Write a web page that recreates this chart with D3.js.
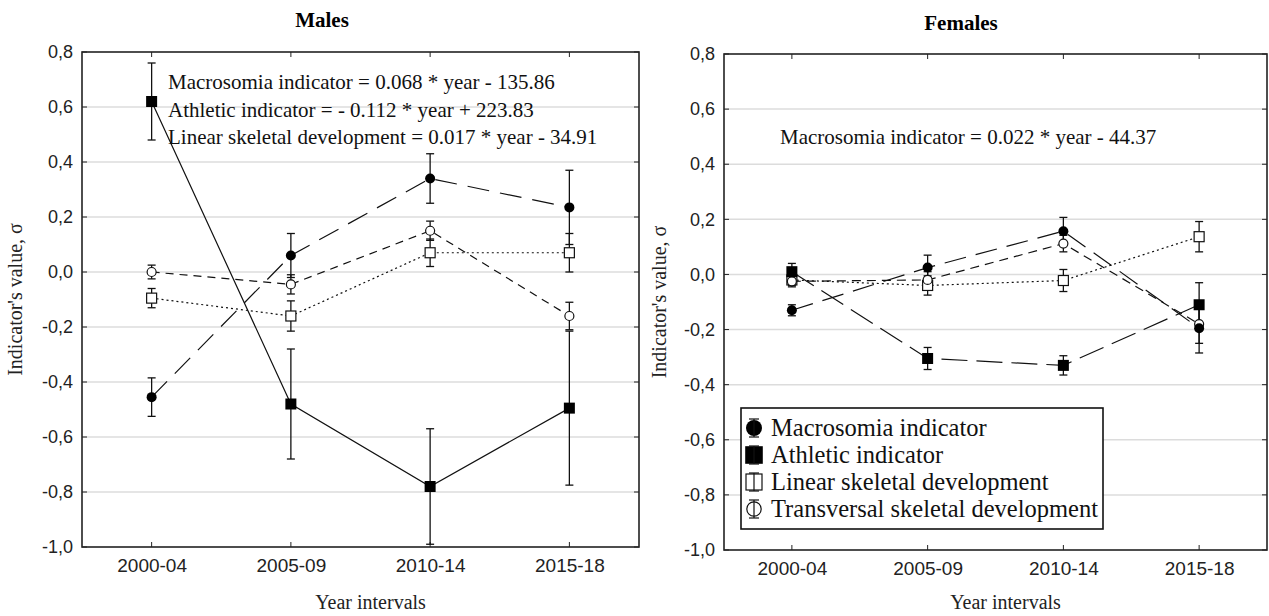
<!DOCTYPE html>
<html>
<head>
<meta charset="utf-8">
<script src="https://cdn.jsdelivr.net/npm/d3@7"></script>
<style>
  body { margin: 0; background: #fff; }
  svg { display: block; }
</style>
</head>
<body>
<div id="vis-container"></div>
<script>
(() => {

    ////////////////////////////////////
    ////////////// Data ////////////////
    ////////////////////////////////////

    const periods = ["2000-04", "2005-09", "2010-14", "2015-18"]
    const yTicks = [0.8, 0.6, 0.4, 0.2, 0.0, -0.2, -0.4, -0.6, -0.8, -1.0]
    const seriesNames = ["Macrosomia indicator", "Athletic indicator",
        "Linear skeletal development", "Transversal skeletal development"]

    // males: mean and half-width of error bar
    const maleMacro = [-0.455, 0.06, 0.34, 0.235]
    const maleMacroErr = [0.07, 0.08, 0.09, 0.135]
    const maleAthletic = [0.62, -0.48, -0.78, -0.495]
    const maleAthleticErr = [0.14, 0.20, 0.21, 0.28]
    const maleLinear = [-0.095, -0.16, 0.07, 0.07]
    const maleLinearErr = [0.035, 0.055, 0.05, 0.07]
    const maleTransv = [0.0, -0.045, 0.15, -0.16]
    const maleTransvErr = [0.025, 0.035, 0.035, 0.05]

    // females
    const femMacro = [-0.13, 0.025, 0.157, -0.195]
    const femMacroErr = [0.02, 0.045, 0.05, 0.09]
    const femAthletic = [0.01, -0.305, -0.33, -0.11]
    const femAthleticErr = [0.03, 0.04, 0.035, 0.08]
    const femLinear = [-0.02, -0.04, -0.022, 0.137]
    const femLinearErr = [0.02, 0.035, 0.04, 0.055]
    const femTransv = [-0.025, -0.02, 0.112, -0.18]
    const femTransvErr = [0.02, 0.03, 0.03, 0.07]

    const maleEquations = [
        "Macrosomia indicator = 0.068 * year - 135.86",
        "Athletic indicator = - 0.112 * year + 223.83",
        "Linear skeletal development = 0.017 * year - 34.91"
    ]
    const femaleEquations = ["Macrosomia indicator = 0.022 * year - 44.37"]

    ////////////////////////////////////
    ///////////// SVG Setup ////////////
    ////////////////////////////////////

    const svgWidth = 1269
    const svgHeight = 616

    const svg = d3.select('#vis-container')
        .append('svg')
        .attr("width", svgWidth)
        .attr("height", svgHeight)

    svg.append("rect").attr("width", svgWidth).attr("height", svgHeight).attr("fill", "#fff")

    const serif = "'Liberation Serif', 'Times New Roman', serif"
    const sans = "'Liberation Sans', Arial, sans-serif"

    const fmt = d3.formatLocale({ decimal: ",", thousands: " ", grouping: [3], currency: ["", ""], minus: "-" }).format(".1f")

    const makeSeries = (vals, errs) => vals.map((v, i) => ({ period: periods[i], v: v, e: errs[i] }))

    ////////////////////////////////////
    /////////// Panel drawing //////////
    ////////////////////////////////////

    function drawPanel(cfg) {
        const g = svg.append("g")

        const xScale = d3.scalePoint()
            .domain(periods)
            .range([cfg.left, cfg.right])
            .padding(0.5)

        const yScale = d3.scaleLinear()
            .domain([-1, 0.8])
            .range([cfg.bottom, cfg.top])

        // grid
        g.selectAll(".grid")
            .data(yTicks.slice(1, -1))
            .join("line")
            .attr("x1", cfg.left).attr("x2", cfg.right)
            .attr("y1", d => yScale(d)).attr("y2", d => yScale(d))
            .attr("stroke", "#dcdcdc").attr("stroke-width", 1.5)

        // y tick labels
        const yAxis = d3.axisLeft(yScale).tickValues(yTicks).tickSize(0).tickPadding(9).tickFormat(fmt)
        const ya = g.append("g").attr("transform", `translate(${cfg.left},0)`).call(yAxis)
        ya.select(".domain").remove()
        ya.selectAll("text").attr("font-family", sans).attr("font-size", 18).attr("fill", "#222")

        // x tick labels
        const xAxis = d3.axisBottom(xScale).tickSize(0).tickPadding(12)
        const xa = g.append("g").attr("transform", `translate(0,${cfg.bottom})`).call(xAxis)
        xa.select(".domain").remove()
        xa.selectAll("text").attr("font-family", sans).attr("font-size", 19).attr("fill", "#222")

        // inward ticks on all sides
        const tk = 5
        yTicks.forEach(t => {
            g.append("line").attr("x1", cfg.left).attr("x2", cfg.left + tk)
                .attr("y1", yScale(t)).attr("y2", yScale(t)).attr("stroke", "#222")
            g.append("line").attr("x1", cfg.right).attr("x2", cfg.right - tk)
                .attr("y1", yScale(t)).attr("y2", yScale(t)).attr("stroke", "#222")
        })
        periods.forEach(p => {
            g.append("line").attr("x1", xScale(p)).attr("x2", xScale(p))
                .attr("y1", cfg.top).attr("y2", cfg.top + tk).attr("stroke", "#222")
            g.append("line").attr("x1", xScale(p)).attr("x2", xScale(p))
                .attr("y1", cfg.bottom).attr("y2", cfg.bottom - tk).attr("stroke", "#222")
        })

        // frame
        g.append("rect")
            .attr("x", cfg.left).attr("y", cfg.top)
            .attr("width", cfg.right - cfg.left).attr("height", cfg.bottom - cfg.top)
            .attr("fill", "none").attr("stroke", "#222").attr("stroke-width", 1.6)

        // titles
        g.append("text")
            .attr("x", cfg.titleX).attr("y", cfg.titleY)
            .attr("text-anchor", "middle")
            .attr("font-family", serif).attr("font-weight", "bold").attr("font-size", 21)
            .text(cfg.title)

        g.append("text")
            .attr("x", (cfg.left + cfg.right) / 2 + 10).attr("y", 609)
            .attr("text-anchor", "middle")
            .attr("font-family", serif).attr("font-size", 20).attr("fill", "#222")
            .text("Year intervals")

        g.append("text")
            .attr("transform", `translate(${cfg.ylabX},${(cfg.top + cfg.bottom) / 2}) rotate(-90)`)
            .attr("text-anchor", "middle")
            .attr("font-family", serif).attr("font-size", 20).attr("fill", "#222")
            .text("Indicator's value,  σ")

        // lines
        const line = d3.line().x(d => xScale(d.period)).y(d => yScale(d.v))

        cfg.series.forEach(s => {
            g.append("path")
                .datum(s.data)
                .attr("d", line)
                .attr("fill", "none")
                .attr("stroke", "#111")
                .attr("stroke-width", 1.2)
                .attr("stroke-dasharray", s.dash)
        })

        // error bars
        cfg.series.forEach(s => {
            const eb = g.append("g")
            s.data.forEach(d => {
                const x = xScale(d.period)
                const y1 = yScale(d.v + d.e), y2 = yScale(d.v - d.e)
                eb.append("line").attr("x1", x).attr("x2", x).attr("y1", y1).attr("y2", y2)
                    .attr("stroke", "#111").attr("stroke-width", 1.3)
                eb.append("line").attr("x1", x - 4).attr("x2", x + 4).attr("y1", y1).attr("y2", y1)
                    .attr("stroke", "#111").attr("stroke-width", 1.3)
                eb.append("line").attr("x1", x - 4).attr("x2", x + 4).attr("y1", y2).attr("y2", y2)
                    .attr("stroke", "#111").attr("stroke-width", 1.3)
            })
        })

        // markers (open ones first, filled on top)
        const order = [2, 3, 0, 1]
        order.forEach(k => {
            const s = cfg.series[k]
            s.data.forEach(d => drawMarker(g, s.marker, xScale(d.period), yScale(d.v), 1))
        })

        // equations
        cfg.equations.forEach((t, i) => {
            g.append("text")
                .attr("x", cfg.eqX).attr("y", cfg.eqY + i * 27.5)
                .attr("font-family", serif).attr("font-size", 21).attr("fill", "#111")
                .text(t)
        })

        return { xScale, yScale }
    }

    function drawMarker(g, type, x, y, k) {
        if (type === "fcircle") {
            g.append("circle").attr("cx", x).attr("cy", y).attr("r", 5 * k).attr("fill", "#000")
        } else if (type === "fsquare") {
            g.append("rect").attr("x", x - 5.5 * k).attr("y", y - 5.5 * k)
                .attr("width", 11 * k).attr("height", 11 * k).attr("fill", "#000")
        } else if (type === "osquare") {
            g.append("rect").attr("x", x - 5 * k).attr("y", y - 5 * k)
                .attr("width", 10 * k).attr("height", 10 * k)
                .attr("fill", "#fff").attr("stroke", "#111").attr("stroke-width", 1.2)
        } else {
            g.append("circle").attr("cx", x).attr("cy", y).attr("r", 4.5 * k)
                .attr("fill", "#fff").attr("stroke", "#111").attr("stroke-width", 1.2)
        }
    }

    ////////////////////////////////////
    ///////////// Panels ///////////////
    ////////////////////////////////////

    drawPanel({
        title: "Males", titleX: 322, titleY: 27,
        left: 82, right: 639, top: 52, bottom: 547, ylabX: 22,
        eqX: 168, eqY: 89, equations: maleEquations,
        series: [
            { data: makeSeries(maleMacro, maleMacroErr), marker: "fcircle", dash: "22,11" },
            { data: makeSeries(maleAthletic, maleAthleticErr), marker: "fsquare", dash: null },
            { data: makeSeries(maleLinear, maleLinearErr), marker: "osquare", dash: "2,3" },
            { data: makeSeries(maleTransv, maleTransvErr), marker: "ocircle", dash: "8,6" }
        ]
    })

    drawPanel({
        title: "Females", titleX: 961, titleY: 30,
        left: 724, right: 1267, top: 54, bottom: 550, ylabX: 666,
        eqX: 780, eqY: 144, equations: femaleEquations,
        series: [
            { data: makeSeries(femMacro, femMacroErr), marker: "fcircle", dash: "22,10" },
            { data: makeSeries(femAthletic, femAthleticErr), marker: "fsquare", dash: "26,9" },
            { data: makeSeries(femLinear, femLinearErr), marker: "osquare", dash: "2,3" },
            { data: makeSeries(femTransv, femTransvErr), marker: "ocircle", dash: "9,6" }
        ]
    })

    ////////////////////////////////////
    ///////////// Legend ///////////////
    ////////////////////////////////////

    const legend = svg.append("g").attr("transform", "translate(741,408)")
    legend.append("rect")
        .attr("width", 362).attr("height", 121)
        .attr("fill", "#fff").attr("stroke", "#111").attr("stroke-width", 1.6)

    const legendMarkers = ["fcircle", "fsquare", "osquare", "ocircle"]
    seriesNames.forEach((name, i) => {
        const cy = 20 + i * 27
        const cx = 13
        drawMarker(legend, legendMarkers[i], cx, cy, 1.6)
        // small error bar inside symbol
        legend.append("line").attr("x1", cx).attr("x2", cx).attr("y1", cy - 9).attr("y2", cy + 9)
            .attr("stroke", "#111").attr("stroke-width", 1.2)
        legend.append("line").attr("x1", cx - 5).attr("x2", cx + 5).attr("y1", cy - 9).attr("y2", cy - 9)
            .attr("stroke", "#111").attr("stroke-width", 1.2)
        legend.append("line").attr("x1", cx - 5).attr("x2", cx + 5).attr("y1", cy + 9).attr("y2", cy + 9)
            .attr("stroke", "#111").attr("stroke-width", 1.2)
        legend.append("text")
            .attr("x", 30).attr("y", cy + 8)
            .attr("font-family", serif).attr("font-size", 24.5).attr("fill", "#111")
            .text(name)
    })

})()
</script>
</body>
</html>
